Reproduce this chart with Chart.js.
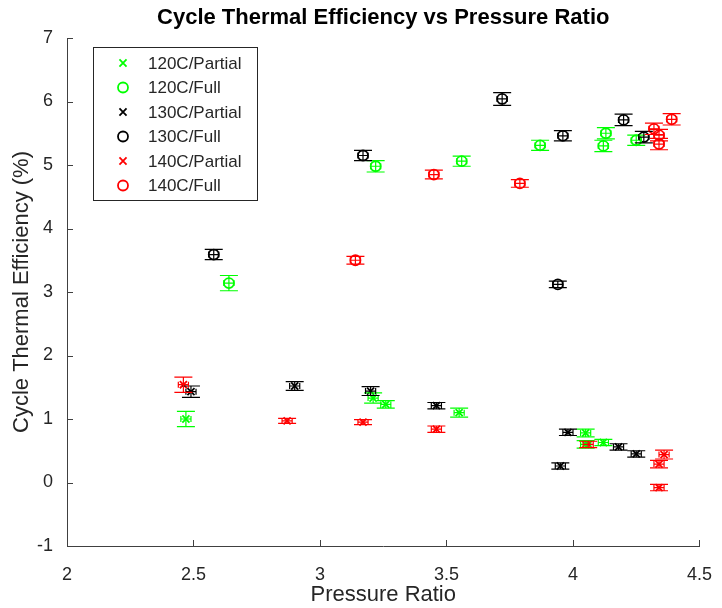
<!DOCTYPE html>
<html>
<head>
<meta charset="utf-8">
<script src="https://cdn.jsdelivr.net/npm/chart.js@4.4.0/dist/chart.umd.min.js"></script>
<style>
  html, body { margin: 0; padding: 0; background: #fff; }
</style>
</head>
<body>
<canvas id="effChart" width="722" height="608"></canvas>
<script>
'use strict'
// series names / colours
var seriesNames = ['120C/Partial', '120C/Full', '130C/Partial', '130C/Full', '140C/Partial', '140C/Full'];
var seriesColors = ['#00ff00', '#00ff00', '#000000', '#000000', '#ff0000', '#ff0000'];
var seriesStyles = ['crossRot', 'circle', 'crossRot', 'circle', 'crossRot', 'circle'];

// pressure ratio (x), efficiency % (y), error in y
var x120Partial = [2.47, 3.21, 3.26, 3.55, 4.05, 4.05, 4.12];
var y120Partial = [1.00, 1.33, 1.23, 1.10, 0.78, 0.60, 0.63];
var e120Partial = [0.12, 0.08, 0.06, 0.07, 0.06, 0.06, 0.05];

var x120Full = [2.64, 3.22, 3.56, 3.87, 4.13, 4.12, 4.25];
var y120Full = [3.14, 4.98, 5.06, 5.31, 5.50, 5.30, 5.39];
var e120Full = [0.12, 0.09, 0.08, 0.08, 0.09, 0.09, 0.08];

var x130Partial = [2.49, 2.90, 3.20, 3.46, 3.98, 3.95, 4.18, 4.25];
var y130Partial = [1.43, 1.52, 1.44, 1.21, 0.79, 0.26, 0.56, 0.45];
var e130Partial = [0.09, 0.07, 0.07, 0.05, 0.05, 0.05, 0.05, 0.05];

var x130Full = [2.58, 3.17, 3.72, 3.96, 3.94, 4.20, 4.28];
var y130Full = [3.59, 5.15, 6.04, 5.46, 3.12, 5.71, 5.44];
var e130Full = [0.08, 0.08, 0.10, 0.08, 0.05, 0.09, 0.09];

var x140Partial = [2.46, 2.87, 3.17, 3.46, 4.06, 4.36, 4.34, 4.34];
var y140Partial = [1.54, 0.97, 0.95, 0.84, 0.60, 0.44, 0.29, -0.08];
var e140Partial = [0.12, 0.04, 0.04, 0.05, 0.05, 0.07, 0.06, 0.05];

var x140Full = [3.14, 3.45, 3.79, 4.32, 4.34, 4.34, 4.39];
var y140Full = [3.50, 4.85, 4.71, 5.57, 5.47, 5.33, 5.72];
var e140Full = [0.06, 0.07, 0.06, 0.09, 0.09, 0.09, 0.09];

var xErr = 0.02;

var xTicks = [2, 2.5, 3, 3.5, 4, 4.5];
var yTicks = [-1, 0, 1, 2, 3, 4, 5, 6, 7];

var allX = [x120Partial, x120Full, x130Partial, x130Full, x140Partial, x140Full];
var allY = [y120Partial, y120Full, y130Partial, y130Full, y140Partial, y140Full];
var allE = [e120Partial, e120Full, e130Partial, e130Full, e140Partial, e140Full];

var fontFam = '"Liberation Sans", Arial, Helvetica, sans-serif';
var axisColor = '#404040';

var datasets = seriesNames.map(function(name, i) {
    return {
        label: name,
        data: allX[i].map(function(x, j) { return { x: x, y: allY[i][j], e: allE[i][j] }; }),
        pointStyle: seriesStyles[i],
        pointRadius: 5,
        pointHoverRadius: 5,
        borderColor: seriesColors[i],
        backgroundColor: 'rgba(0,0,0,0)',
        pointBorderWidth: 1.8,
        showLine: false
    };
});

// error bars, inward ticks and legend box
var extrasPlugin = {
    id: 'extras',
    afterDatasetsDraw: function(chart) {
        var ctx = chart.ctx;
        var xs = chart.scales.x, ys = chart.scales.y;
        ctx.save();
        chart.data.datasets.forEach(function(ds, i) {
            ctx.strokeStyle = ds.borderColor;
            ctx.lineWidth = 1.2;
            ds.data.forEach(function(p) {
                var px = xs.getPixelForValue(p.x);
                var py = ys.getPixelForValue(p.y);
                var top = ys.getPixelForValue(p.y + p.e);
                var bot = ys.getPixelForValue(p.y - p.e);
                var l = xs.getPixelForValue(p.x - xErr);
                var r = xs.getPixelForValue(p.x + xErr);
                ctx.beginPath();
                ctx.moveTo(px, top); ctx.lineTo(px, bot);
                ctx.moveTo(px - 9, top); ctx.lineTo(px + 9, top);
                ctx.moveTo(px - 9, bot); ctx.lineTo(px + 9, bot);
                ctx.moveTo(l, py); ctx.lineTo(r, py);
                ctx.moveTo(l, py - 3); ctx.lineTo(l, py + 3);
                ctx.moveTo(r, py - 3); ctx.lineTo(r, py + 3);
                ctx.stroke();
            });
        });

        // inward tick marks
        var area = chart.chartArea;
        ctx.strokeStyle = axisColor;
        ctx.lineWidth = 1;
        ctx.beginPath();
        xs.ticks.forEach(function(t) {
            var px = Math.round(xs.getPixelForValue(t.value)) + 0.5;
            ctx.moveTo(px, area.bottom); ctx.lineTo(px, area.bottom - 6);
        });
        ys.ticks.forEach(function(t) {
            var py = Math.round(ys.getPixelForValue(t.value)) + 0.5;
            ctx.moveTo(area.left, py); ctx.lineTo(area.left + 6, py);
        });
        ctx.stroke();

        // legend
        var lx = 93, ly = 47, lw = 164, lh = 153;
        ctx.fillStyle = '#fff';
        ctx.fillRect(lx, ly, lw, lh);
        ctx.strokeStyle = '#262626';
        ctx.lineWidth = 1;
        ctx.strokeRect(lx + 0.5, ly + 0.5, lw, lh);
        ctx.font = '17px ' + fontFam;
        ctx.textBaseline = 'middle';
        ctx.textAlign = 'left';
        chart.data.datasets.forEach(function(ds, i) {
            var cy = ly + 16 + i * 24.5;
            ctx.strokeStyle = ds.borderColor;
            ctx.fillStyle = 'rgba(0,0,0,0)';
            ctx.lineWidth = 1.8;
            Chart.helpers.drawPoint(ctx, { pointStyle: ds.pointStyle, radius: 5, borderWidth: 1.8 }, 123, cy);
            ctx.fillStyle = '#262626';
            ctx.fillText(ds.label, 148, cy + 1);
        });
        ctx.restore();
    }
};

var ctx = document.getElementById('effChart');
var effChart = new Chart(ctx, {
    type: 'scatter',
    data: { datasets: datasets },
    options: {
        responsive: false,
        animation: false,
        events: [],
        layout: { padding: { left: 0, right: 13, top: 0, bottom: 0 } },
        plugins: {
            legend: { display: false },
            tooltip: { enabled: false },
            title: {
                display: true,
                fullSize: false,
                text: 'Cycle Thermal Efficiency vs Pressure Ratio',
                color: '#000',
                font: { family: fontFam, size: 22, weight: 'bold' },
                padding: { top: 5, bottom: 6.6 }
            }
        },
        scales: {
            x: {
                type: 'linear',
                min: 2, max: 4.5,
                afterBuildTicks: function(scale) {
                    scale.ticks = xTicks.map(function(v) { return { value: v }; });
                },
                afterFit: function(scale) { scale.height = 62; },
                grid: { display: false },
                border: { display: true, color: axisColor, width: 1 },
                ticks: {
                    color: '#262626', padding: 10, font: { family: fontFam, size: 18 },
                    callback: function(v) { return String(v); }
                },
                title: {
                    display: true, text: 'Pressure Ratio', color: '#262626',
                    font: { family: fontFam, size: 22 }, padding: { top: 0, bottom: 0 }
                }
            },
            y: {
                type: 'linear',
                min: -1, max: 7,
                afterBuildTicks: function(scale) {
                    scale.ticks = yTicks.map(function(v) { return { value: v }; });
                },
                afterFit: function(scale) { scale.width = 67; },
                grid: { display: false },
                border: { display: true, color: axisColor, width: 1 },
                ticks: {
                    color: '#262626', padding: 6, font: { family: fontFam, size: 18 },
                    callback: function(v) { return String(v); }
                },
                title: {
                    display: true, text: 'Cycle Thermal Efficiency (%)', color: '#262626',
                    font: { family: fontFam, size: 22 }, padding: { top: 9, bottom: 0 }
                }
            }
        }
    },
    plugins: [extrasPlugin]
});
</script>
</body>
</html>
